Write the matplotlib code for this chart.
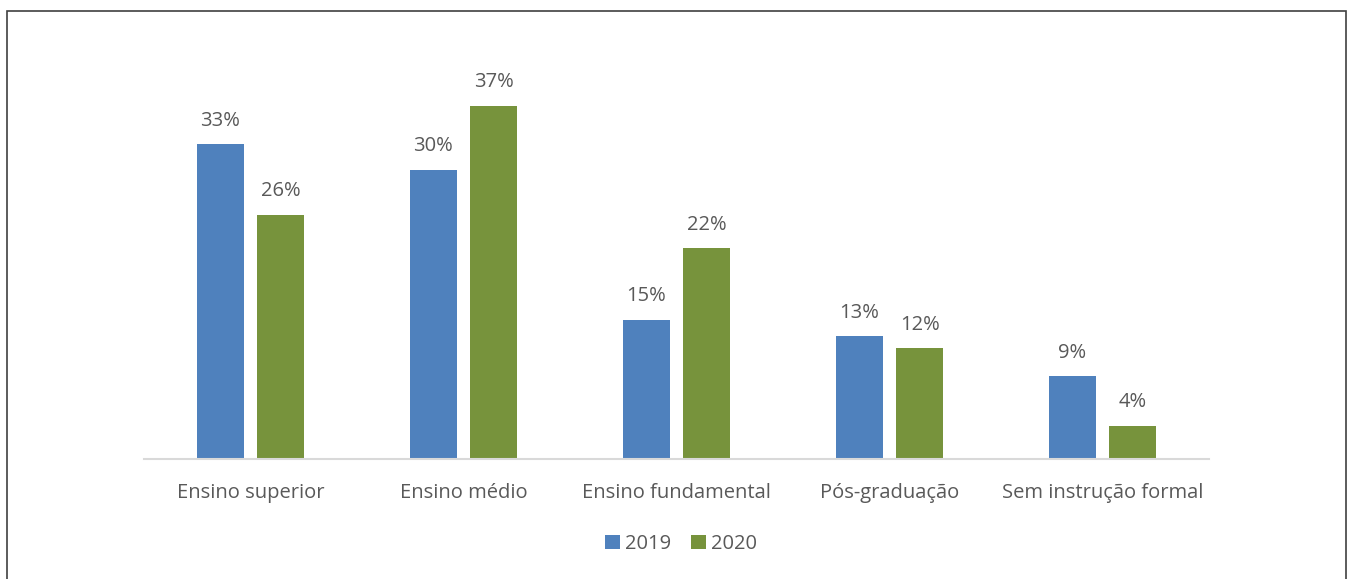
import numpy as np
import matplotlib.pyplot as plt
from matplotlib.patches import Rectangle

categories = ["Ensino superior", "Ensino médio", "Ensino fundamental", "Pós-graduação", "Sem instrução formal"]
v2019 = [33.0, 30.3, 14.6, 12.9, 8.7]
v2020 = [25.6, 37.0, 22.1, 11.6, 3.5]
series_names = ["2019", "2020"]

plt.rcParams['font.family'] = ['Open Sans', 'DejaVu Sans']
gray = "#595959"

fig = plt.figure(figsize=(13.5, 5.79), dpi=100)
ax = fig.add_axes([144 / 1350, 1 - 459 / 579, 1065 / 1350, (459 - 39) / 579])

x = np.arange(len(categories))
w = 0.222
off = 0.142
b1 = ax.bar(x - off, v2019, w, color="#4F81BD", label=series_names[0])
b2 = ax.bar(x + off, v2020, w, color="#77933C", label=series_names[1])

for bars in (b1, b2):
    for r in bars:
        ax.text(r.get_x() + r.get_width() / 2, r.get_height() + 1.4, f"{r.get_height():.0f}%",
                ha="center", va="bottom", fontsize=14.5, color=gray)

ax.set_xlim(-0.5, len(categories) - 0.5)
ax.set_ylim(0, 44)
ax.set_yticks([])
ax.set_xticks(x)
ax.set_xticklabels(categories, fontsize=14.5, color=gray)
ax.tick_params(axis="x", length=0, pad=17)
for s in ["top", "right", "left"]:
    ax.spines[s].set_visible(False)
ax.spines["bottom"].set_color("#D9D9D9")
ax.spines["bottom"].set_linewidth(1.5)

leg = fig.legend(handles=[b1, b2], labels=series_names, loc="center", bbox_to_anchor=(681 / 1350, 1 - 544 / 579),
                 ncol=2, frameon=False, fontsize=14.5, handlelength=0.75, handleheight=0.75,
                 handletextpad=0.25, columnspacing=1.0)
for t in leg.get_texts():
    t.set_color(gray)

fig.patches.append(Rectangle((7 / 1350, -0.05), (1346 - 7) / 1350, 1.05 - 11 / 579,
                             transform=fig.transFigure, fill=False, edgecolor="#404040", linewidth=1.2))

fig.savefig("out.png", dpi=100, facecolor="white")
